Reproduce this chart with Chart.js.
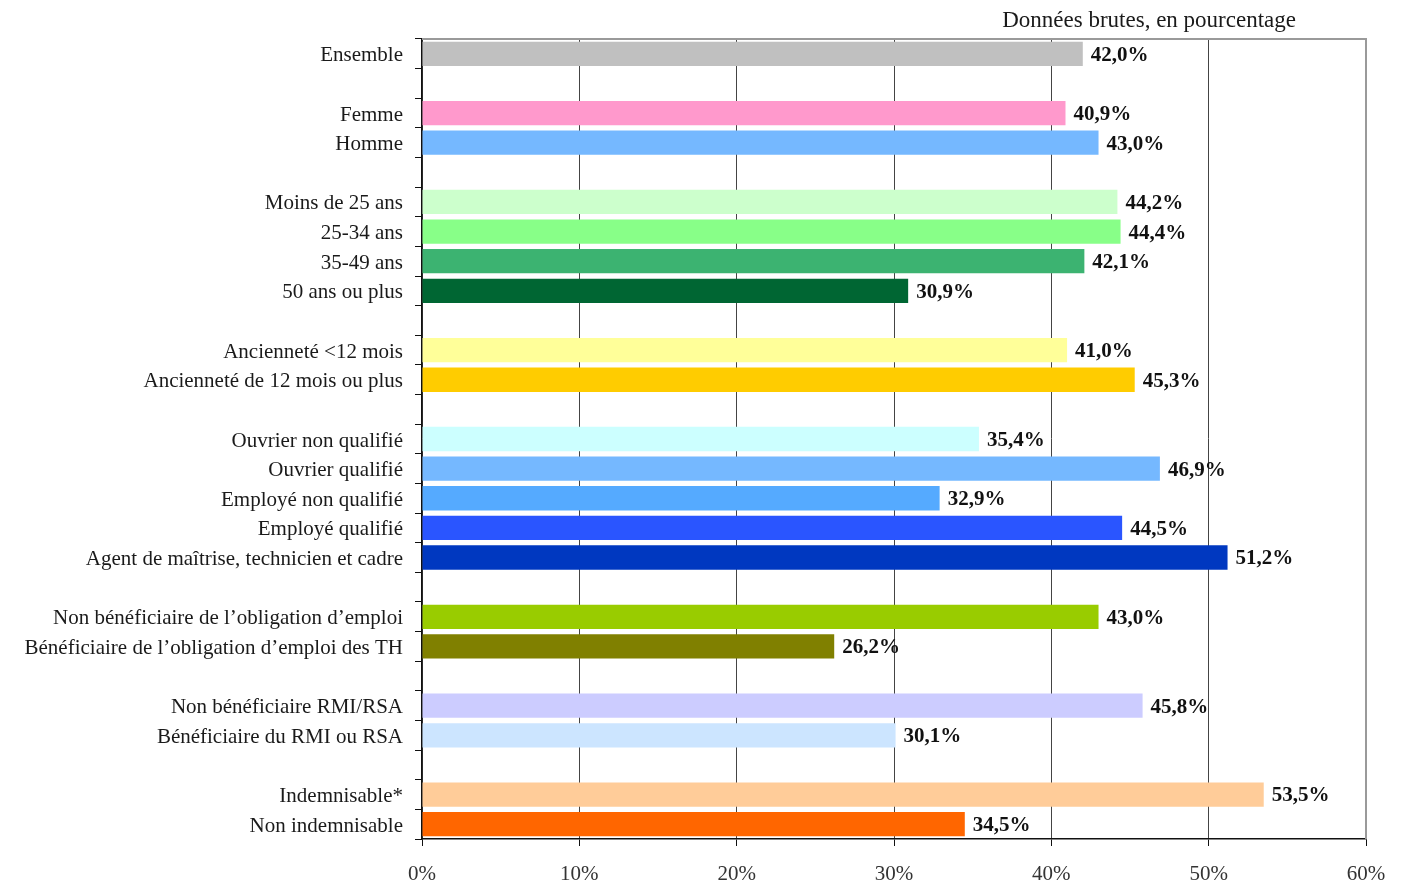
<!DOCTYPE html>
<html>
<head>
<meta charset="utf-8">
<script src="https://cdn.jsdelivr.net/npm/chart.js@4"></script>
<style>
html,body{margin:0;padding:0;background:#fff;}
#wrap{width:1404px;height:884px;position:relative;}
</style>
</head>
<body>
<div id="wrap"><canvas id="c" width="1404" height="884"></canvas></div>
<script>
const categories = [
  "Ensemble", "",
  "Femme", "Homme", "",
  "Moins de 25 ans", "25-34 ans", "35-49 ans", "50 ans ou plus", "",
  "Ancienneté <12 mois", "Ancienneté de 12 mois ou plus", "",
  "Ouvrier non qualifié", "Ouvrier qualifié", "Employé non qualifié", "Employé qualifié", "Agent de maîtrise, technicien et cadre", "",
  "Non bénéficiaire de l’obligation d’emploi", "Bénéficiaire de l’obligation d’emploi des TH", "",
  "Non bénéficiaire RMI/RSA", "Bénéficiaire du RMI ou RSA", "",
  "Indemnisable*", "Non indemnisable"
];
const values = [
  42.0, null,
  40.9, 43.0, null,
  44.2, 44.4, 42.1, 30.9, null,
  41.0, 45.3, null,
  35.4, 46.9, 32.9, 44.5, 51.2, null,
  43.0, 26.2, null,
  45.8, 30.1, null,
  53.5, 34.5
];
const barColors = [
  "#C0C0C0", "#fff",
  "#FF99CC", "#75B8FF", "#fff",
  "#CCFFCC", "#88FF88", "#3CB371", "#006633", "#fff",
  "#FFFF99", "#FFCC00", "#fff",
  "#CCFFFF", "#75B8FF", "#55AAFF", "#2A55FF", "#0038C0", "#fff",
  "#99CC00", "#808000", "#fff",
  "#CCCCFF", "#CCE5FF", "#fff",
  "#FFCC99", "#FF6600"
];
const xTicks = [0, 10, 20, 30, 40, 50, 60];
const subtitle = "Données brutes, en pourcentage";

const SERIF = "'Liberation Serif', 'Times New Roman', serif";

const framePlugin = {
  id: 'frame',
  afterDraw(chart) {
    const {ctx, chartArea: a} = chart;
    ctx.save();
    ctx.strokeStyle = '#9a9a9a';
    ctx.lineWidth = 2;
    ctx.beginPath();
    ctx.moveTo(a.left, a.top);
    ctx.lineTo(a.right, a.top);
    ctx.lineTo(a.right, a.bottom);
    ctx.stroke();
    ctx.fillStyle = '#1a1a1a';
    ctx.font = "23px " + SERIF;
    ctx.textAlign = 'right';
    ctx.textBaseline = 'alphabetic';
    ctx.fillText(subtitle, a.right - 70, 27);
    ctx.restore();
  }
};

const labelPlugin = {
  id: 'barLabels',
  afterDatasetsDraw(chart) {
    const {ctx} = chart;
    const meta = chart.getDatasetMeta(0);
    ctx.save();
    ctx.fillStyle = '#111';
    ctx.font = "bold 21px " + SERIF;
    ctx.textAlign = 'left';
    ctx.textBaseline = 'middle';
    meta.data.forEach((bar, i) => {
      const v = values[i];
      if (v === null || v === undefined) return;
      ctx.fillText(v.toFixed(1).replace('.', ',') + '%', bar.x + 8, bar.y + 1.5);
    });
    ctx.restore();
  }
};

new Chart(document.getElementById('c'), {
  type: 'bar',
  data: {
    labels: categories,
    datasets: [{
      data: values,
      backgroundColor: barColors,
      borderWidth: 0,
      barPercentage: 0.82,
      categoryPercentage: 1.0
    }]
  },
  options: {
    indexAxis: 'y',
    responsive: false,
    animation: false,
    devicePixelRatio: 1,
    layout: { padding: { left: 6, right: 38, top: 39, bottom: 0 } },
    plugins: {
      legend: { display: false },
      tooltip: { enabled: false },
      title: { display: false }
    },
    scales: {
      x: {
        min: 0, max: 60,
        afterBuildTicks(scale) { scale.ticks = xTicks.map(v => ({value: v})); },
        afterFit(scale) { scale.height = 45; },
        grid: {
          color: '#444',
          lineWidth: 1,
          drawTicks: true,
          tickLength: 7,
          tickColor: '#111'
        },
        border: { display: true, color: '#111', width: 1.5 },
        ticks: {
          padding: 16,
          color: '#333',
          font: { family: SERIF, size: 21 },
          callback: v => v + '%'
        }
      },
      y: {
        afterFit(scale) { scale.width = 416; },
        grid: {
          display: true,
          drawOnChartArea: false,
          drawTicks: true,
          tickLength: 7,
          tickColor: '#111',
          offset: true
        },
        border: { display: true, color: '#111', width: 1.5 },
        ticks: {
          padding: 12,
          labelOffset: 2,
          color: '#1a1a1a',
          autoSkip: false,
          font: { family: SERIF, size: 21 }
        }
      }
    }
  },
  plugins: [framePlugin, labelPlugin]
});
</script>
</body>
</html>
